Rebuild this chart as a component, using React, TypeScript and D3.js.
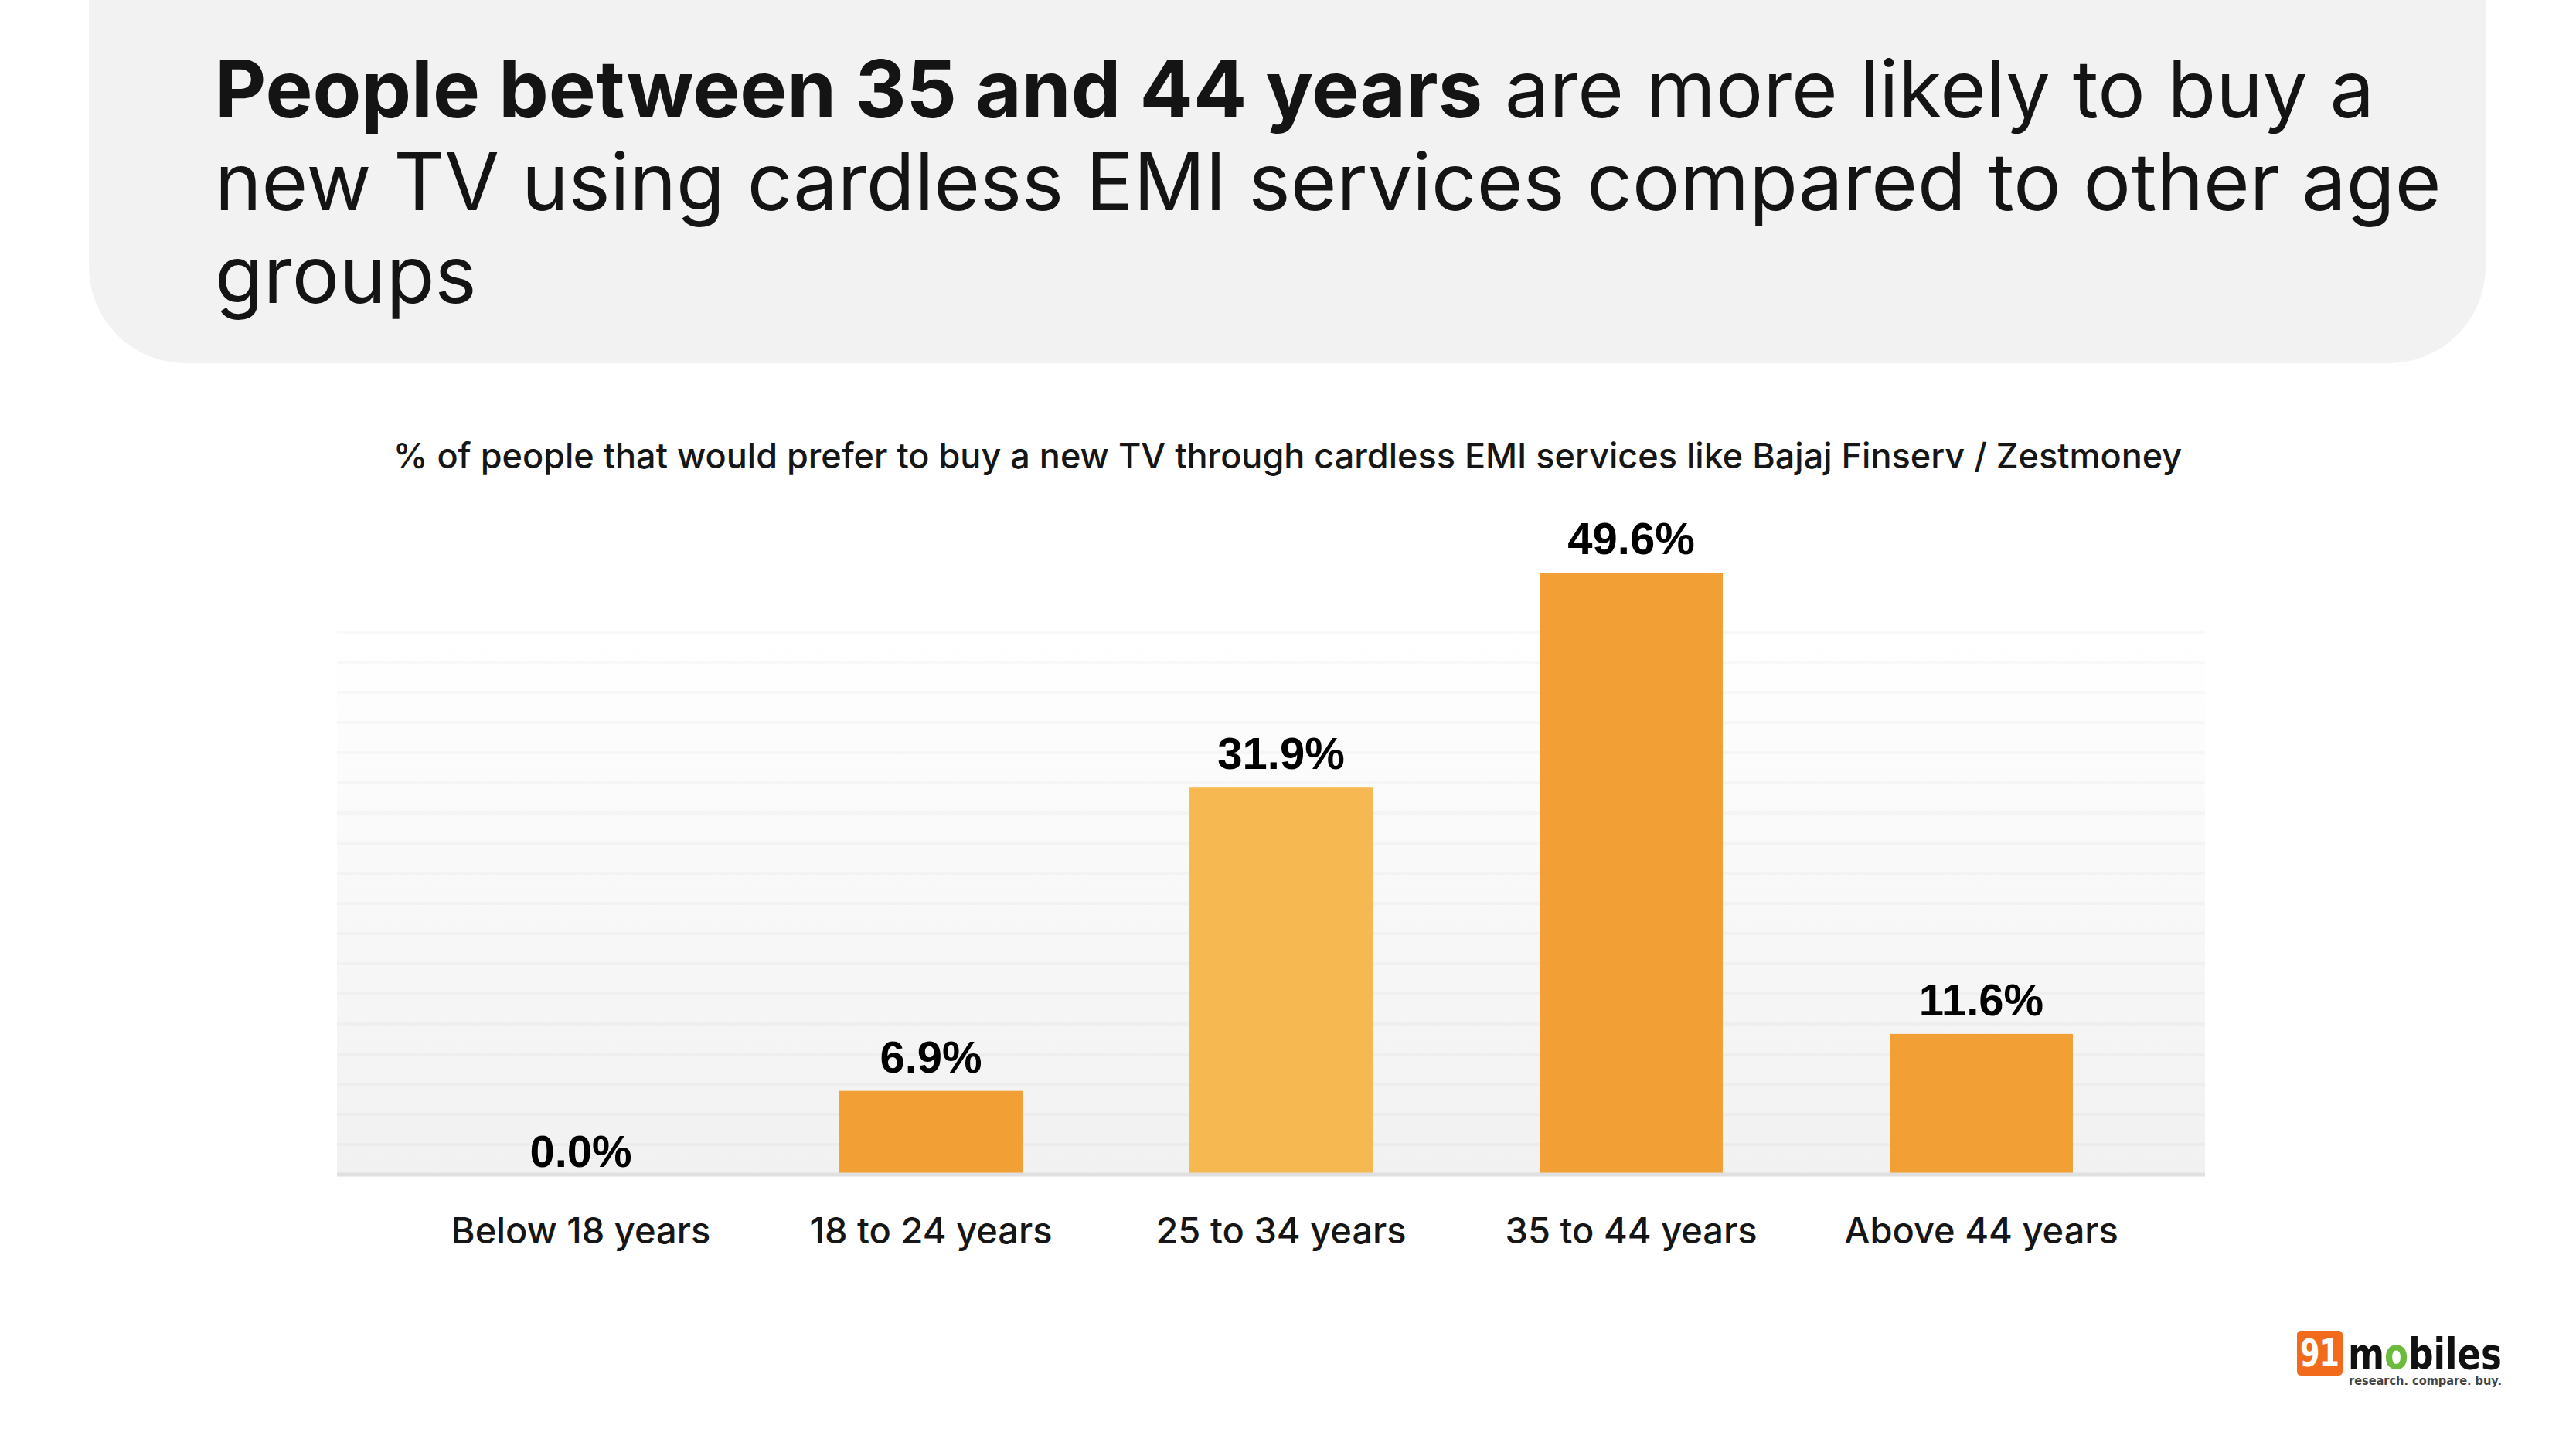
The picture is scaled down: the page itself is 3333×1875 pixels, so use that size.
import React, { useEffect, useRef } from 'react'
import { select, scaleBand, scaleLinear, range } from 'd3'

const categories = ['Below 18 years', '18 to 24 years', '25 to 34 years', '35 to 44 years', 'Above 44 years']
const values = [0.0, 6.9, 31.9, 49.6, 11.6]
const barColors = ['#F2A036', '#F2A036', '#F6B952', '#F2A036', '#F2A036']

const titleBold = 'People between 35 and 44 years'
const titleRest = [' are more likely to buy a', 'new TV using cardless EMI services compared to other age', 'groups']
const subtitle = '% of people that would prefer to buy a new TV through cardless EMI services like Bajaj Finserv / Zestmoney'

const App = () => {
    const svgRef = useRef<SVGSVGElement>(null)

    const width = 3333
    const height = 1875
    const plot = { left: 436, right: 2853, top: 818, bottom: 1520 }

    useEffect(() => {
        const svg = select(svgRef.current)
        svg.selectAll('*').remove()

        const defs = svg.append('defs')
        const grad = defs.append('linearGradient')
            .attr('id', 'plotbg')
            .attr('x1', 0).attr('y1', 0).attr('x2', 0).attr('y2', 1)
        grad.append('stop').attr('offset', '0%').attr('stop-color', '#ffffff')
        grad.append('stop').attr('offset', '100%').attr('stop-color', '#f1f1f1')

        // header panel
        svg.append('rect')
            .attr('x', 115).attr('y', -300)
            .attr('width', 3216 - 115).attr('height', 470 + 300)
            .attr('rx', 125)
            .attr('fill', '#f2f2f2')

        const title = svg.append('text')
            .attr('font-family', 'Inter, sans-serif')
            .attr('font-size', 102.5)
            .attr('fill', '#141414')
        const l1 = title.append('tspan').attr('x', 278).attr('y', 152)
        l1.append('tspan').attr('font-weight', 700).text(titleBold)
        l1.append('tspan').attr('font-weight', 400).text(titleRest[0])
        title.append('tspan').attr('x', 278).attr('y', 272).text(titleRest[1])
        title.append('tspan').attr('x', 278).attr('y', 392).text(titleRest[2])

        svg.append('text')
            .attr('x', 1666).attr('y', 606)
            .attr('text-anchor', 'middle')
            .attr('font-family', 'Inter, sans-serif')
            .attr('font-weight', 500)
            .attr('font-size', 45)
            .attr('fill', '#161616')
            .text(subtitle)

        // plot background + faint grid
        svg.append('rect')
            .attr('x', plot.left).attr('y', plot.top)
            .attr('width', plot.right - plot.left).attr('height', plot.bottom - plot.top)
            .attr('fill', 'url(#plotbg)')

        svg.append('g')
            .selectAll('line')
            .data(range(18))
            .enter().append('line')
            .attr('x1', plot.left).attr('x2', plot.right)
            .attr('y1', d => plot.top + d * 39)
            .attr('y2', d => plot.top + d * 39)
            .attr('stroke', 'rgba(0,0,0,0.022)')
            .attr('stroke-width', 4)

        const xScale = scaleBand()
            .domain(categories)
            .range([525, 2790])
            .paddingInner(0.477)
            .paddingOuter(0.2385)

        const yScale = scaleLinear()
            .domain([0, 50])
            .range([plot.bottom, plot.bottom - 50 * 15.7])

        const data = categories.map((c, i) => ({ cat: c, value: values[i], color: barColors[i] }))

        svg.append('g')
            .selectAll('.bar')
            .data(data)
            .enter().append('rect')
            .attr('class', 'bar')
            .attr('x', d => xScale(d.cat))
            .attr('y', d => yScale(d.value))
            .attr('width', xScale.bandwidth())
            .attr('height', d => plot.bottom - yScale(d.value))
            .attr('fill', d => d.color)

        // axis line
        svg.append('line')
            .attr('x1', plot.left).attr('x2', plot.right)
            .attr('y1', 1520).attr('y2', 1520)
            .attr('stroke', '#e0e0e0')
            .attr('stroke-width', 5)

        svg.append('g')
            .selectAll('text')
            .data(data)
            .enter().append('text')
            .attr('x', d => xScale(d.cat) + xScale.bandwidth() / 2)
            .attr('y', d => d.value === 0 ? plot.bottom - 10 : yScale(d.value) - 24)
            .attr('text-anchor', 'middle')
            .attr('font-family', 'Liberation Sans, Arial, sans-serif')
            .attr('font-weight', 700)
            .attr('font-size', 58)
            .attr('fill', '#000')
            .text(d => d.value.toFixed(1) + '%')

        svg.append('g')
            .selectAll('text')
            .data(data)
            .enter().append('text')
            .attr('x', d => xScale(d.cat) + xScale.bandwidth() / 2)
            .attr('y', 1609)
            .attr('text-anchor', 'middle')
            .attr('font-family', 'Inter, sans-serif')
            .attr('font-weight', 500)
            .attr('font-size', 47)
            .attr('fill', '#161616')
            .text(d => d.cat)

        // 91mobiles logo
        const logo = svg.append('g')
        logo.append('rect')
            .attr('x', 2972).attr('y', 1722)
            .attr('width', 59).attr('height', 58)
            .attr('rx', 5)
            .attr('fill', '#F26A1B')
        logo.append('text')
            .attr('x', 2976).attr('y', 1768)
            .attr('textLength', 51)
            .attr('lengthAdjust', 'spacingAndGlyphs')
            .attr('font-family', 'DejaVu Sans, sans-serif')
            .attr('font-weight', 700)
            .attr('font-size', 50)
            .attr('fill', '#fff')
            .text('91')
        const mob = logo.append('text')
            .attr('x', 3038).attr('y', 1771)
            .attr('textLength', 199)
            .attr('lengthAdjust', 'spacingAndGlyphs')
            .attr('font-family', 'DejaVu Sans, sans-serif')
            .attr('font-weight', 700)
            .attr('font-size', 56)
            .attr('fill', '#111')
        mob.append('tspan').text('m')
        mob.append('tspan').attr('fill', '#6cbb3c').text('o')
        mob.append('tspan').text('biles')
        logo.append('text')
            .attr('x', 3039).attr('y', 1792)
            .attr('textLength', 198)
            .attr('lengthAdjust', 'spacingAndGlyphs')
            .attr('font-family', 'DejaVu Sans, sans-serif')
            .attr('font-weight', 700)
            .attr('font-size', 15)
            .attr('fill', '#444')
            .text('research. compare. buy.')
    }, [])

    return (
        <svg ref={svgRef} width={width} height={height}
            style={{ position: 'absolute', left: 0, top: 0, display: 'block', background: '#fff' }} />
    )
}

export default App
